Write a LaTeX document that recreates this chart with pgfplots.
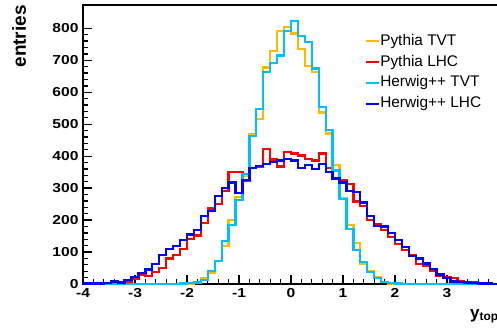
\documentclass[border=0pt]{standalone}
\usepackage{pgfplots}
\pgfplotsset{compat=1.18}
\usepackage{pgfplotstable}
\usepackage{fontspec}
\setmainfont{Liberation Sans}
\newfontfamily\tickfont{Liberation Sans}[FakeStretch=1.2]
\definecolor{ptvt}{RGB}{255,185,0}
\definecolor{plhc}{RGB}{255,0,0}
\definecolor{htvt}{RGB}{0,190,255}
\definecolor{hlhc}{RGB}{0,0,255}
\pgfplotstableread{
x pt pl ht hl
-4.0000 0 0 0 2
-3.8667 0 1 0 2
-3.7333 0 1 0 2
-3.6000 0 2 0 3
-3.4667 0 3 0 8
-3.3333 0 5 0 5
-3.2000 0 8 0 12
-3.0667 0 15 0 22
-2.9333 0 28 0 35
-2.8000 0 25 0 45
-2.6667 0 38 0 62
-2.5333 0 50 0 90
-2.4000 0 80 1 110
-2.2667 0 90 1 120
-2.1333 1 110 2 138
-2.0000 2 140 3 155
-1.8667 6 152 5 170
-1.7333 18 190 12 212
-1.6000 35 236 40 228
-1.4667 73 250 72 275
-1.3333 120 290 135 300
-1.2000 200 350 185 318
-1.0667 272 350 263 285
-0.9333 337 322 345 325
-0.8000 469 362 464 362
-0.6667 517 368 548 370
-0.5333 677 423 663 376
-0.4000 729 390 692 382
-0.2667 791 368 715 386
-0.1333 804 413 791 392
0.0000 784 408 822 386
0.1333 736 402 776 362
0.2667 682 392 757 372
0.4000 664 386 674 360
0.5333 537 408 554 376
0.6667 471 362 482 350
0.8000 372 355 355 330
0.9333 270 325 267 318
1.0667 184 312 173 290
1.2000 128 258 106 288
1.3333 62 245 69 255
1.4667 40 200 38 212
1.6000 22 188 18 182
1.7333 6 170 6 180
1.8667 2 147 3 160
2.0000 1 125 2 137
2.1333 0 106 1 115
2.2667 0 90 0 88
2.4000 0 62 0 80
2.5333 0 58 0 64
2.6667 0 40 0 48
2.8000 0 25 0 30
2.9333 0 20 0 18
3.0667 0 18 0 8
3.2000 0 8 0 6
3.3333 0 6 0 5
3.4667 0 5 0 3
3.6000 0 3 0 2
3.7333 0 2 0 2
3.8667 0 1 0 1
4.0000 0 1 0 1
}\hist
\begin{document}
\begin{tikzpicture}
\begin{axis}[
  scale only axis, width=416pt, height=279pt,
  xmin=-4, xmax=4, ymin=0, ymax=873,
  clip=false,
  axis line style={line width=1.6pt},
  xtick={-4,-3,...,4}, xticklabels={-4,-3,-2,-1,0,1,2,3,{}}, minor x tick num=4,
  ytick={0,100,...,800}, minor y tick num=4,
  xtick pos=lower, ytick pos=left,
  tick align=inside, major tick length=9pt, minor tick length=5pt,
  tick style={line width=1.3pt, black},
  /pgf/number format/assume math mode=true,
  ticklabel style={font=\tickfont\bfseries\fontsize{13}{13}\selectfont},
  yticklabel style={xshift=-1pt},
  xticklabel style={yshift=-1pt},
  legend cell align=left,
  legend image code/.code={\draw[#1, line width=2pt] (0pt,0pt) -- (13pt,0pt);},
  legend style={at={(rel axis cs:0.678,0.896)}, anchor=north west, draw=none, fill=none,
    inner sep=0pt, row sep=6.8pt,
    font=\fontsize{15.4}{15.4}\selectfont,
    nodes={inner sep=0pt, text height=11pt, text depth=3pt},
    /tikz/every even column/.append style={column sep=3pt}},
]
\addplot[const plot mark left, line width=2.3pt, ptvt] table[x=x, y=pt] {\hist};
\addlegendentry{Pythia TVT}
\addplot[const plot mark left, line width=2.3pt, plhc] table[x=x, y=pl] {\hist};
\addlegendentry{Pythia LHC}
\addplot[const plot mark left, line width=2.3pt, htvt] table[x=x, y=ht] {\hist};
\addlegendentry{Herwig++ TVT}
\addplot[const plot mark left, line width=2.3pt, hlhc] table[x=x, y=hl] {\hist};
\addlegendentry{Herwig++ LHC}
\end{axis}
\node[rotate=90, anchor=base east, font=\bfseries\fontsize{19}{19}\selectfont, inner sep=0pt]
  at ([xshift=-57pt]current axis.north west) {entries};
\node[anchor=base west, font=\bfseries\fontsize{17}{17}\selectfont, inner sep=0pt]
  at ([xshift=387pt, yshift=-34pt]current axis.south west) {y\textsubscript{top}};
\pgfresetboundingbox
\path[use as bounding box] ([xshift=-83pt,yshift=-47pt]current axis.south west) rectangle ([xshift=-2pt,yshift=5pt]current axis.north east);
\end{tikzpicture}
\end{document}
